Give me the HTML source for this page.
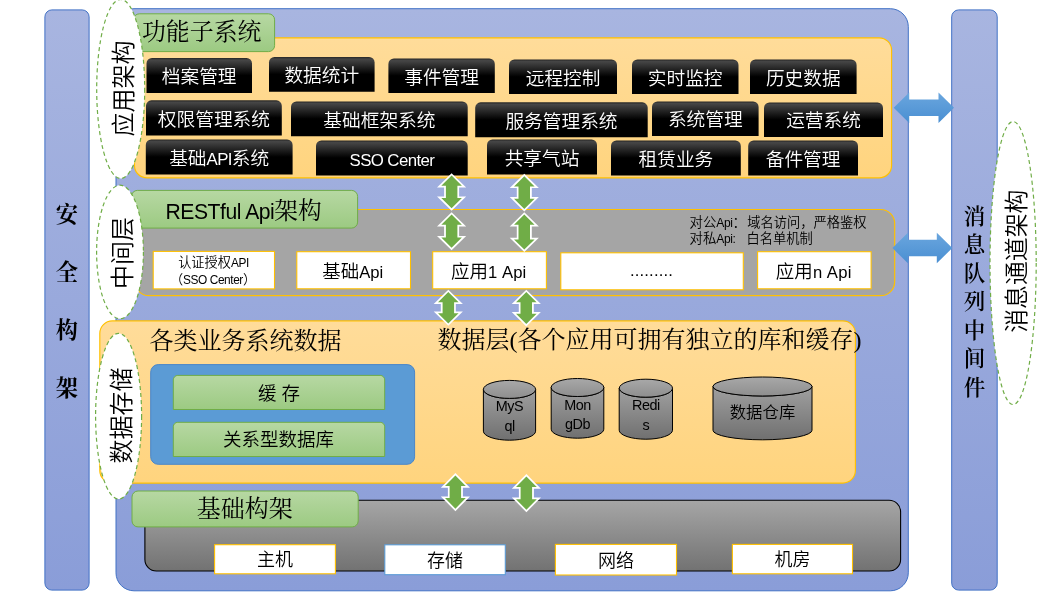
<!DOCTYPE html>
<html lang="zh-CN"><head><meta charset="utf-8"><title>架构图</title>
<style>
html,body{margin:0;padding:0;background:#fff;}
body{width:1049px;height:598px;overflow:hidden;}
svg{display:block;will-change:transform;}
.fs{font-family:'Liberation Sans','Noto Sans CJK SC',sans-serif;font-weight:350;}
.fr{font-family:'Liberation Serif','Noto Serif CJK SC',serif;}
</style></head><body>
<svg width="1049" height="598" viewBox="0 0 1049 598">
<defs>
<linearGradient id="gb" x1="0" y1="0" x2="0" y2="1"><stop offset="0" stop-color="#a8b5e0"/><stop offset="1" stop-color="#8a9dd8"/></linearGradient>
<linearGradient id="go" x1="0" y1="0" x2="0" y2="1"><stop offset="0" stop-color="#ffdc9a"/><stop offset="1" stop-color="#ffd47e"/></linearGradient>
<linearGradient id="gg" x1="0" y1="0" x2="0" y2="1"><stop offset="0" stop-color="#b7d8a3"/><stop offset="1" stop-color="#9cca82"/></linearGradient>
<linearGradient id="gk" x1="0" y1="0" x2="0" y2="1"><stop offset="0" stop-color="#262626"/><stop offset="0.06" stop-color="#464646"/><stop offset="0.28" stop-color="#232323"/><stop offset="0.5" stop-color="#000"/><stop offset="1" stop-color="#000"/></linearGradient>
<linearGradient id="gi" x1="0" y1="0" x2="0" y2="1"><stop offset="0" stop-color="#a6a6a6"/><stop offset="1" stop-color="#727272"/></linearGradient>
<linearGradient id="gcy" x1="0" y1="0" x2="0" y2="1"><stop offset="0" stop-color="#a0a0a0"/><stop offset="1" stop-color="#707070"/></linearGradient>
<linearGradient id="gcyt" x1="0" y1="0" x2="0" y2="1"><stop offset="0" stop-color="#a8a8a8"/><stop offset="1" stop-color="#8e8e8e"/></linearGradient>
<linearGradient id="gba" x1="0" y1="0" x2="0" y2="1"><stop offset="0" stop-color="#6aa6de"/><stop offset="1" stop-color="#4a8fd2"/></linearGradient>
</defs>
<rect width="1049" height="598" fill="#fff"/>
<rect x="44.9" y="9.9" width="44.2" height="580.2" rx="7" fill="url(#gb)" stroke="#4171c5" stroke-width="1" />
<rect x="116.0" y="8.7" width="792.3" height="582.1" rx="18" fill="url(#gb)" stroke="#4171c5" stroke-width="1" />
<rect x="951.7" y="9.9" width="45.5" height="580.2" rx="7" fill="url(#gb)" stroke="#4171c5" stroke-width="1" />
<rect x="134.5" y="37.8" width="757.1" height="140.1" rx="12.5" fill="url(#go)" stroke="#ffc000" stroke-width="1.15" />
<rect x="135.0" y="209.5" width="759.7" height="86.2" rx="14" fill="#a5a5a5" stroke="#ffc000" stroke-width="1.2" />
<rect x="99.8" y="320.9" width="755.6" height="162.2" rx="12.5" fill="url(#go)" stroke="#ffc000" stroke-width="1.15" />
<rect x="144.9" y="500.3" width="755.7" height="70.7" rx="11.5" fill="url(#gi)" stroke="#000" stroke-width="1.1" />
<path d="M146.5,93.1 L146.5,63.5 A5.5,5.5 0 0 1 152.0,58.0 L246.5,58.0 A5.5,5.5 0 0 1 252.0,63.5 L252.0,93.1 Z" fill="url(#gk)"/>
<text class="fs" x="199.2" y="83.2" font-size="18.7" fill="#fff"  text-anchor="middle" >档案管理</text>
<path d="M269.0,91.7 L269.0,62.5 A5.5,5.5 0 0 1 274.5,57.0 L369.1,57.0 A5.5,5.5 0 0 1 374.6,62.5 L374.6,91.7 Z" fill="url(#gk)"/>
<text class="fs" x="321.8" y="82.0" font-size="18.7" fill="#fff"  text-anchor="middle" >数据统计</text>
<path d="M388.4,93.1 L388.4,64.0 A5.5,5.5 0 0 1 393.9,58.5 L489.3,58.5 A5.5,5.5 0 0 1 494.8,64.0 L494.8,93.1 Z" fill="url(#gk)"/>
<text class="fs" x="441.6" y="83.5" font-size="18.7" fill="#fff"  text-anchor="middle" >事件管理</text>
<path d="M509.0,94.1 L509.0,65.0 A5.5,5.5 0 0 1 514.5,59.5 L611.5,59.5 A5.5,5.5 0 0 1 617.0,65.0 L617.0,94.1 Z" fill="url(#gk)"/>
<text class="fs" x="563.0" y="84.5" font-size="18.7" fill="#fff"  text-anchor="middle" >远程控制</text>
<path d="M632.0,94.1 L632.0,65.0 A5.5,5.5 0 0 1 637.5,59.5 L733.0,59.5 A5.5,5.5 0 0 1 738.5,65.0 L738.5,94.1 Z" fill="url(#gk)"/>
<text class="fs" x="685.2" y="84.5" font-size="18.7" fill="#fff"  text-anchor="middle" >实时监控</text>
<path d="M750.0,94.1 L750.0,65.0 A5.5,5.5 0 0 1 755.5,59.5 L851.1,59.5 A5.5,5.5 0 0 1 856.6,65.0 L856.6,94.1 Z" fill="url(#gk)"/>
<text class="fs" x="803.3" y="84.5" font-size="18.7" fill="#fff"  text-anchor="middle" >历史数据</text>
<path d="M146.0,135.4 L146.0,105.8 A5.5,5.5 0 0 1 151.5,100.3 L276.3,100.3 A5.5,5.5 0 0 1 281.8,105.8 L281.8,135.4 Z" fill="url(#gk)"/>
<text class="fs" x="213.9" y="125.5" font-size="18.7" fill="#fff"  text-anchor="middle" >权限管理系统</text>
<path d="M291.0,136.2 L291.0,106.9 A5.5,5.5 0 0 1 296.5,101.4 L462.2,101.4 A5.5,5.5 0 0 1 467.7,106.9 L467.7,136.2 Z" fill="url(#gk)"/>
<text class="fs" x="379.4" y="126.5" font-size="18.7" fill="#fff"  text-anchor="middle" >基础框架系统</text>
<path d="M475.2,137.3 L475.2,107.8 A5.5,5.5 0 0 1 480.7,102.3 L642.2,102.3 A5.5,5.5 0 0 1 647.7,107.8 L647.7,137.3 Z" fill="url(#gk)"/>
<text class="fs" x="561.5" y="127.5" font-size="18.7" fill="#fff"  text-anchor="middle" >服务管理系统</text>
<path d="M652.0,135.9 L652.0,106.9 A5.5,5.5 0 0 1 657.5,101.4 L753.1,101.4 A5.5,5.5 0 0 1 758.6,106.9 L758.6,135.9 Z" fill="url(#gk)"/>
<text class="fs" x="705.3" y="126.3" font-size="18.7" fill="#fff"  text-anchor="middle" >系统管理</text>
<path d="M764.0,136.9 L764.0,107.9 A5.5,5.5 0 0 1 769.5,102.4 L877.5,102.4 A5.5,5.5 0 0 1 883.0,107.9 L883.0,136.9 Z" fill="url(#gk)"/>
<text class="fs" x="823.5" y="127.3" font-size="18.7" fill="#fff"  text-anchor="middle" >运营系统</text>
<path d="M145.8,174.4 L145.8,145.0 A5.5,5.5 0 0 1 151.3,139.5 L287.1,139.5 A5.5,5.5 0 0 1 292.6,145.0 L292.6,174.4 Z" fill="url(#gk)"/>
<text class="fs" x="219.2" y="164.6" font-size="18.7" fill="#fff"  text-anchor="middle" >基础<tspan font-size="16.83" letter-spacing="-0.60">API</tspan>系统</text>
<path d="M316.0,175.4 L316.0,146.0 A5.5,5.5 0 0 1 321.5,140.5 L462.2,140.5 A5.5,5.5 0 0 1 467.7,146.0 L467.7,175.4 Z" fill="url(#gk)"/>
<text class="fs" x="391.9" y="165.6" font-size="18.7" fill="#fff"  text-anchor="middle" ><tspan font-size="16.83" letter-spacing="-0.60">SSO Center</tspan></text>
<path d="M487.0,174.4 L487.0,145.0 A5.5,5.5 0 0 1 492.5,139.5 L591.5,139.5 A5.5,5.5 0 0 1 597.0,145.0 L597.0,174.4 Z" fill="url(#gk)"/>
<text class="fs" x="542.0" y="164.6" font-size="18.7" fill="#fff"  text-anchor="middle" >共享气站</text>
<path d="M611.0,175.4 L611.0,146.0 A5.5,5.5 0 0 1 616.5,140.5 L735.3,140.5 A5.5,5.5 0 0 1 740.8,146.0 L740.8,175.4 Z" fill="url(#gk)"/>
<text class="fs" x="675.9" y="165.6" font-size="18.7" fill="#fff"  text-anchor="middle" >租赁业务</text>
<path d="M748.2,175.4 L748.2,146.0 A5.5,5.5 0 0 1 753.7,140.5 L852.5,140.5 A5.5,5.5 0 0 1 858.0,146.0 L858.0,175.4 Z" fill="url(#gk)"/>
<text class="fs" x="803.1" y="165.6" font-size="18.7" fill="#fff"  text-anchor="middle" >备件管理</text>
<rect x="133.4" y="13.8" width="141.2" height="37.8" rx="6" fill="url(#gg)" stroke="#70ad47" stroke-width="1" />
<text class="fr" x="201.7" y="40.3" font-size="23.9" fill="#000"  text-anchor="middle" >功能子系统</text>
<rect x="131.4" y="190.4" width="226.2" height="37.7" rx="6" fill="url(#gg)" stroke="#70ad47" stroke-width="1" />
<text x="243.6" y="218.6" font-size="23.7" text-anchor="middle"><tspan class="fs"><tspan font-size="21.15" letter-spacing="-0.47">RESTful Api</tspan></tspan><tspan class="fr">架构</tspan></text>
<rect x="132.0" y="491.0" width="226.2" height="35.9" rx="6" fill="url(#gg)" stroke="#70ad47" stroke-width="1" />
<text class="fr" x="244.8" y="517.4" font-size="24" fill="#000"  text-anchor="middle" >基础构架</text>
<rect x="153.2" y="251.4" width="121.3" height="37.5" rx="0" fill="#fff" stroke="#ffc000" stroke-width="1.1" />
<text class="fs" x="213.5" y="266.8" font-size="13.2" fill="#000"  text-anchor="middle" >认证授权<tspan font-size="11.88" letter-spacing="-0.42">API</tspan></text>
<text class="fs" x="213.0" y="283.8" font-size="13.2" fill="#000"  text-anchor="middle" >（<tspan font-size="11.88" letter-spacing="-0.42">SSO Center</tspan>）</text>
<rect x="296.8" y="251.7" width="113.7" height="37.1" rx="0" fill="#fff" stroke="#ffc000" stroke-width="1.1" />
<text class="fs" x="352.7" y="277.5" font-size="18.5" fill="#000"  text-anchor="middle" >基础<tspan font-size="16.65" letter-spacing="0.00">Api</tspan></text>
<rect x="432.7" y="251.7" width="113.7" height="37.1" rx="0" fill="#fff" stroke="#ffc000" stroke-width="1.1" />
<text class="fs" x="488.6" y="277.5" font-size="18.5" fill="#000"  text-anchor="middle" >应用<tspan font-size="16.65" letter-spacing="0.09">1 Api</tspan></text>
<rect x="560.8" y="252.8" width="182.5" height="37.0" rx="0" fill="#fff" stroke="#ffc000" stroke-width="1.1" />
<text class="fs" x="651.5" y="276.2" font-size="16.65" letter-spacing="0.15" text-anchor="middle">.........</text>
<rect x="757.6" y="251.7" width="113.5" height="37.1" rx="0" fill="#fff" stroke="#ffc000" stroke-width="1.1" />
<text class="fs" x="813.9" y="277.5" font-size="18.5" fill="#000"  text-anchor="middle" >应用<tspan font-size="16.65" letter-spacing="0.41">n Api</tspan></text>
<text class="fs" x="689.5" y="227.2" font-size="13.4">对公<tspan font-size="12.06" letter-spacing="-0.43">Api</tspan><tspan style="font-family:'Noto Sans CJK JP',sans-serif">：</tspan></text>
<text class="fs" x="747.3" y="227.2" font-size="13.25" fill="#000"  text-anchor="start" >域名访问，严格鉴权</text>
<text class="fs" x="689.5" y="243.4" font-size="13.4" fill="#000"  text-anchor="start" >对私<tspan font-size="12.06" letter-spacing="-0.43">Api:</tspan></text>
<text class="fs" x="746.6" y="243.4" font-size="13.25" fill="#000"  text-anchor="start" >白名单机制</text>
<text class="fr" x="149.6" y="349.2" font-size="24" fill="#000"  text-anchor="start" >各类业务系统数据</text>
<text class="fr" x="437.6" y="347.8" font-size="24" fill="#000"  text-anchor="start" >数据层(各个应用可拥有独立的库和缓存)</text>
<rect x="150.7" y="364.6" width="263.9" height="99.7" rx="7.5" fill="#5b9bd5" stroke="#4a86c9" stroke-width="1" />
<path d="M173.3,409.5 L173.3,379.9 A4.5,4.5 0 0 1 177.8,375.4 L380.2,375.4 A4.5,4.5 0 0 1 384.7,379.9 L384.7,409.5 Z" fill="url(#gg)" stroke="#70ad47" stroke-width="1"/>
<text class="fs" x="279.0" y="400.1" font-size="18.5" fill="#000"  text-anchor="middle" >缓 存</text>
<path d="M173.3,456.5 L173.3,426.8 A4.5,4.5 0 0 1 177.8,422.3 L380.2,422.3 A4.5,4.5 0 0 1 384.7,426.8 L384.7,456.5 Z" fill="url(#gg)" stroke="#70ad47" stroke-width="1"/>
<text class="fs" x="278.6" y="446.0" font-size="18.5" fill="#000"  text-anchor="middle" >关系型数据库</text>
<path d="M483.4,389.4 L483.4,431.2 A26.1,9.0 0 0 0 535.6,431.2 L535.6,389.4 A26.1,9.0 0 0 1 483.4,389.4 Z" fill="url(#gcy)" stroke="#000" stroke-width="1"/>
<ellipse cx="509.5" cy="389.4" rx="26.1" ry="9.0" fill="url(#gcyt)" stroke="#000" stroke-width="1"/>
<text class="fs" x="509.5" y="411.4" font-size="16" fill="#000"  text-anchor="middle" ><tspan font-size="14.40" letter-spacing="-0.51">MyS</tspan></text>
<text class="fs" x="509.5" y="430.9" font-size="16" fill="#000"  text-anchor="middle" ><tspan font-size="14.40" letter-spacing="-0.51">ql</tspan></text>
<path d="M551.2,387.5 L551.2,429.2 A26.3,9.0 0 0 0 603.8,429.2 L603.8,387.5 A26.3,9.0 0 0 1 551.2,387.5 Z" fill="url(#gcy)" stroke="#000" stroke-width="1"/>
<ellipse cx="577.5" cy="387.5" rx="26.3" ry="9.0" fill="url(#gcyt)" stroke="#000" stroke-width="1"/>
<text class="fs" x="577.5" y="409.5" font-size="16" fill="#000"  text-anchor="middle" ><tspan font-size="14.40" letter-spacing="-0.51">Mon</tspan></text>
<text class="fs" x="577.5" y="429.0" font-size="16" fill="#000"  text-anchor="middle" ><tspan font-size="14.40" letter-spacing="-0.51">gDb</tspan></text>
<path d="M619.2,388.2 L619.2,430.2 A26.6,9.0 0 0 0 672.5,430.2 L672.5,388.2 A26.6,9.0 0 0 1 619.2,388.2 Z" fill="url(#gcy)" stroke="#000" stroke-width="1"/>
<ellipse cx="645.9" cy="388.2" rx="26.6" ry="9.0" fill="url(#gcyt)" stroke="#000" stroke-width="1"/>
<text class="fs" x="645.9" y="410.2" font-size="16" fill="#000"  text-anchor="middle" ><tspan font-size="14.40" letter-spacing="-0.51">Redi</tspan></text>
<text class="fs" x="645.9" y="429.7" font-size="16" fill="#000"  text-anchor="middle" ><tspan font-size="14.40" letter-spacing="-0.51">s</tspan></text>
<path d="M713.0,386.5 L713.0,430.3 A49.5,9.5 0 0 0 812.0,430.3 L812.0,386.5 A49.5,9.5 0 0 1 713.0,386.5 Z" fill="url(#gcy)" stroke="#000" stroke-width="1"/>
<ellipse cx="762.5" cy="386.5" rx="49.5" ry="9.5" fill="url(#gcyt)" stroke="#000" stroke-width="1"/>
<text class="fs" x="762.5" y="418.0" font-size="16.4" fill="#000"  text-anchor="middle" >数据仓库</text>
<rect x="214.6" y="544.7" width="120.8" height="29.1" rx="0" fill="#fff" stroke="#ffc000" stroke-width="1.1" />
<text class="fs" x="275.0" y="566.3" font-size="18" fill="#000"  text-anchor="middle" >主机</text>
<rect x="384.8" y="544.8" width="120.5" height="29.9" rx="0" fill="#fff" stroke="#5b9bd5" stroke-width="1.1" />
<text class="fs" x="445.1" y="566.8" font-size="18" fill="#000"  text-anchor="middle" >存储</text>
<rect x="555.4" y="544.4" width="121.1" height="30.6" rx="0" fill="#fff" stroke="#ffc000" stroke-width="1.1" />
<text class="fs" x="616.0" y="566.8" font-size="18" fill="#000"  text-anchor="middle" >网络</text>
<rect x="732.4" y="544.4" width="120.1" height="29.4" rx="0" fill="#fff" stroke="#ffc000" stroke-width="1.1" />
<text class="fs" x="792.5" y="566.2" font-size="18" fill="#000"  text-anchor="middle" >机房</text>
<path d="M451.6,173.2 L466.2,187.5 L459.1,187.5 L459.1,196.4 L466.2,196.4 L451.6,210.7 L437.0,196.4 L444.1,196.4 L444.1,187.5 L437.0,187.5 Z" fill="#fff"/>
<path d="M451.6,175.6 L461.9,185.8 L457.4,185.8 L457.4,198.1 L461.9,198.1 L451.6,208.3 L441.3,198.1 L445.9,198.1 L445.9,185.8 L441.3,185.8 Z" fill="#70ad47"/>
<path d="M524.3,173.8 L538.9,188.1 L531.8,188.1 L531.8,197.1 L538.9,197.1 L524.3,211.4 L509.7,197.1 L516.8,197.1 L516.8,188.1 L509.7,188.1 Z" fill="#fff"/>
<path d="M524.3,176.2 L534.6,186.4 L530.0,186.4 L530.0,198.8 L534.6,198.8 L524.3,209.0 L514.0,198.8 L518.5,198.8 L518.5,186.4 L514.0,186.4 Z" fill="#70ad47"/>
<path d="M451.6,212.2 L466.2,226.5 L459.1,226.5 L459.1,235.9 L466.2,235.9 L451.6,250.2 L437.0,235.9 L444.1,235.9 L444.1,226.5 L437.0,226.5 Z" fill="#fff"/>
<path d="M451.6,214.6 L461.9,224.8 L457.4,224.8 L457.4,237.6 L461.9,237.6 L451.6,247.8 L441.3,237.6 L445.9,237.6 L445.9,224.8 L441.3,224.8 Z" fill="#70ad47"/>
<path d="M524.3,212.2 L538.9,226.5 L531.8,226.5 L531.8,237.7 L538.9,237.7 L524.3,252.0 L509.7,237.7 L516.8,237.7 L516.8,226.5 L509.7,226.5 Z" fill="#fff"/>
<path d="M524.3,214.6 L534.6,224.8 L530.0,224.8 L530.0,239.4 L534.6,239.4 L524.3,249.6 L514.0,239.4 L518.5,239.4 L518.5,224.8 L514.0,224.8 Z" fill="#70ad47"/>
<path d="M448.3,289.7 L462.9,304.0 L455.8,304.0 L455.8,311.5 L462.9,311.5 L448.3,325.8 L433.7,311.5 L440.8,311.5 L440.8,304.0 L433.7,304.0 Z" fill="#fff"/>
<path d="M448.3,292.1 L458.6,302.2 L454.1,302.2 L454.1,313.2 L458.6,313.2 L448.3,323.4 L438.0,313.2 L442.6,313.2 L442.6,302.2 L438.0,302.2 Z" fill="#70ad47"/>
<path d="M526.3,289.7 L540.9,304.0 L533.8,304.0 L533.8,312.1 L540.9,312.1 L526.3,326.4 L511.7,312.1 L518.8,312.1 L518.8,304.0 L511.7,304.0 Z" fill="#fff"/>
<path d="M526.3,292.1 L536.6,302.2 L532.0,302.2 L532.0,313.8 L536.6,313.8 L526.3,324.0 L516.0,313.8 L520.5,313.8 L520.5,302.2 L516.0,302.2 Z" fill="#70ad47"/>
<path d="M455.4,472.9 L470.0,487.7 L462.9,487.7 L462.9,496.4 L470.0,496.4 L455.4,511.2 L440.8,496.4 L447.9,496.4 L447.9,487.7 L440.8,487.7 Z" fill="#fff"/>
<path d="M455.4,475.4 L465.8,485.9 L461.1,485.9 L461.1,498.1 L465.8,498.1 L455.4,508.7 L445.0,498.1 L449.6,498.1 L449.6,485.9 L445.0,485.9 Z" fill="#70ad47"/>
<path d="M526.4,474.0 L541.0,488.8 L533.9,488.8 L533.9,497.5 L541.0,497.5 L526.4,512.3 L511.8,497.5 L518.9,497.5 L518.9,488.8 L511.8,488.8 Z" fill="#fff"/>
<path d="M526.4,476.5 L536.8,487.1 L532.1,487.1 L532.1,499.2 L536.8,499.2 L526.4,509.8 L516.0,499.2 L520.6,499.2 L520.6,487.1 L516.0,487.1 Z" fill="#70ad47"/>
<path d="M893.7,107.7 L909.2,92.4 L909.2,99.5 L938.5,99.5 L938.5,92.4 L954.0,107.7 L938.5,123.0 L938.5,115.9 L909.2,115.9 L909.2,123.0 Z" fill="url(#gba)"/>
<path d="M892.4,248.0 L907.9,232.7 L907.9,239.8 L936.8,239.8 L936.8,232.7 L952.3,248.0 L936.8,263.3 L936.8,256.2 L907.9,256.2 L907.9,263.3 Z" fill="url(#gba)"/>
<ellipse cx="120.7" cy="89" rx="24" ry="89.5" fill="#fff" stroke="#70ad47" stroke-width="1.2" stroke-dasharray="4 3"/>
<text class="fs" transform="translate(123.2,88.5) rotate(-90)" x="0" y="8.6" font-size="24" text-anchor="middle">应用架构</text>
<ellipse cx="120" cy="252" rx="23.4" ry="66.8" fill="#fff" stroke="#70ad47" stroke-width="1.2" stroke-dasharray="4 3"/>
<text class="fs" transform="translate(122.0,253.0) rotate(-90)" x="0" y="8.6" font-size="24" text-anchor="middle">中间层</text>
<ellipse cx="118.6" cy="416.2" rx="23" ry="82.9" fill="#fff" stroke="#70ad47" stroke-width="1.2" stroke-dasharray="4 3"/>
<text class="fs" transform="translate(121.2,415.4) rotate(-90)" x="0" y="8.6" font-size="24" text-anchor="middle">数据存储</text>
<ellipse cx="1013.1" cy="263" rx="23.1" ry="141.5" fill="#fff" stroke="#70ad47" stroke-width="1.2" stroke-dasharray="4 3"/>
<text class="fs" transform="translate(1016.0,261.2) rotate(-90)" x="0" y="8.6" font-size="23.9" text-anchor="middle">消息通道架构</text>
<text class="fr" x="66.9" y="222.1" font-size="22.2" fill="#000" font-weight="700" text-anchor="middle" >安</text>
<text class="fr" x="66.9" y="279.9" font-size="22.2" fill="#000" font-weight="700" text-anchor="middle" >全</text>
<text class="fr" x="66.9" y="337.7" font-size="22.2" fill="#000" font-weight="700" text-anchor="middle" >构</text>
<text class="fr" x="66.9" y="395.5" font-size="22.2" fill="#000" font-weight="700" text-anchor="middle" >架</text>
<text class="fr" x="974.4" y="223.8" font-size="21.5" fill="#000" font-weight="600" text-anchor="middle" >消</text>
<text class="fr" x="974.4" y="252.3" font-size="21.5" fill="#000" font-weight="600" text-anchor="middle" >息</text>
<text class="fr" x="974.4" y="280.7" font-size="21.5" fill="#000" font-weight="600" text-anchor="middle" >队</text>
<text class="fr" x="974.4" y="309.2" font-size="21.5" fill="#000" font-weight="600" text-anchor="middle" >列</text>
<text class="fr" x="974.4" y="337.6" font-size="21.5" fill="#000" font-weight="600" text-anchor="middle" >中</text>
<text class="fr" x="974.4" y="366.1" font-size="21.5" fill="#000" font-weight="600" text-anchor="middle" >间</text>
<text class="fr" x="974.4" y="394.5" font-size="21.5" fill="#000" font-weight="600" text-anchor="middle" >件</text>
</svg></body></html>
